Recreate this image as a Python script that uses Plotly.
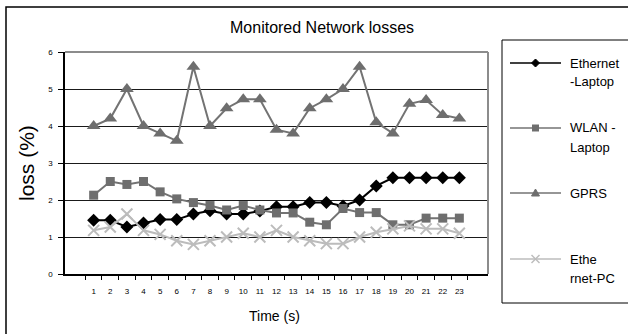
import plotly.graph_objects as go

time_labels = [str(i) for i in range(1, 24)]
ethernet_laptop = [1.45, 1.45, 1.27, 1.38, 1.47, 1.47, 1.62, 1.71, 1.62, 1.62, 1.70, 1.82, 1.82, 1.93,
                   1.93, 1.84, 2.0, 2.38, 2.6, 2.6, 2.6, 2.6, 2.6]
wlan_laptop = [2.13, 2.5, 2.42, 2.5, 2.22, 2.03, 1.93, 1.85, 1.73, 1.85, 1.73, 1.65, 1.65, 1.4,
               1.33, 1.77, 1.66, 1.66, 1.33, 1.33, 1.51, 1.51, 1.51]
gprs = [4.0, 4.2, 5.0, 4.0, 3.8, 3.6, 5.6, 4.0, 4.48, 4.72, 4.72, 3.9, 3.8, 4.48,
        4.72, 5.0, 5.6, 4.1, 3.8, 4.6, 4.7, 4.3, 4.2]
ethernet_pc = [1.18, 1.27, 1.62, 1.18, 1.07, 0.9, 0.8, 0.9, 1.0, 1.1, 1.0, 1.18, 1.0, 0.9,
               0.82, 0.82, 1.0, 1.13, 1.22, 1.3, 1.22, 1.22, 1.1]
series_names = [["Ethernet", "-Laptop"], ["WLAN -", "Laptop"], ["GPRS"], ["Ethe", "rnet-PC"]]

W, H = 628, 334
L, R, T, B = 65, 488, 52, 274


def px(x):
    return (x - L) / (R - L)


def py(y):
    return (B - y) / (B - T)


FONT = "Liberation Sans, Arial, sans-serif"
BLACK = "black"
DARK = "#6e6e6e"
LIGHT = "#bcbcbc"

styles = [
    dict(line=dict(color=BLACK, width=2), marker=dict(symbol="diamond", size=10, color=BLACK)),
    dict(line=dict(color="#737373", width=2), marker=dict(symbol="square", size=9, color=DARK)),
    dict(line=dict(color="#737373", width=2), marker=dict(symbol="triangle-up", size=12, color=DARK)),
    dict(line=dict(color=LIGHT, width=2), marker=dict(symbol="x-thin", size=11, color=LIGHT,
                                                       line=dict(color=LIGHT, width=2))),
]
all_series = [ethernet_laptop, wlan_laptop, gprs, ethernet_pc]

fig = go.Figure()
for vals, names, st in zip(all_series, series_names, styles):
    fig.add_trace(go.Scatter(x=time_labels, y=vals, name=" ".join(names), mode="lines+markers",
                             showlegend=False, **st))

shapes = [
    # outer chart border
    dict(type="rect", xref="paper", yref="paper", x0=px(6), x1=px(660), y0=py(345), y1=py(7),
         line=dict(color="black", width=1.5), fillcolor="rgba(0,0,0,0)", layer="below"),
    # legend box
    dict(type="rect", xref="paper", yref="paper", x0=px(502), x1=px(660), y0=py(303), y1=py(40),
         line=dict(color="black", width=1), fillcolor="rgba(0,0,0,0)", layer="below"),
    # plot-area gray top/right border
    dict(type="line", xref="paper", yref="paper", x0=0, x1=1, y0=1, y1=1,
         line=dict(color="#8c8c8c", width=2)),
    dict(type="line", xref="paper", yref="paper", x0=1, x1=1, y0=0, y1=1,
         line=dict(color="#8c8c8c", width=2)),
]

annotations = [
    dict(text="Monitored Network losses", xref="paper", yref="paper", x=px(322), y=py(27),
         showarrow=False, font=dict(family=FONT, size=16, color="black"),
         xanchor="center", yanchor="middle"),
    dict(text="loss (%)", xref="paper", yref="paper", x=px(26), y=py(163), textangle=-90,
         showarrow=False, font=dict(family=FONT, size=21, color="black"),
         xanchor="center", yanchor="middle"),
    dict(text="Time (s)", xref="paper", yref="paper", x=px(274), y=py(316),
         showarrow=False, font=dict(family=FONT, size=14, color="black"),
         xanchor="center", yanchor="middle"),
]

# hand-made legend (sample line + symbol + two-line label)
leg_y = [63, 128, 193, 259]
lx0, lx1, ltext = 510, 561, 568
for k, (names, st) in enumerate(zip(series_names, styles)):
    yy = leg_y[k]
    col = st["line"]["color"]
    shapes.append(dict(type="line", xref="paper", yref="paper", x0=px(lx0), x1=px(lx1),
                       y0=py(yy), y1=py(yy), line=dict(color=col, width=1.5)))
    cx = (lx0 + lx1) / 2
    mcol = st["marker"]["color"]
    sym = st["marker"]["symbol"]
    if sym == "diamond":
        s = 4
        path = (f"M {px(cx - s)},{py(yy)} L {px(cx)},{py(yy - s)} L {px(cx + s)},{py(yy)} "
                f"L {px(cx)},{py(yy + s)} Z")
        shapes.append(dict(type="path", xref="paper", yref="paper", path=path,
                           fillcolor=mcol, line=dict(color=mcol, width=1)))
    elif sym == "square":
        s = 3.5
        shapes.append(dict(type="rect", xref="paper", yref="paper", x0=px(cx - s), x1=px(cx + s),
                           y0=py(yy + s), y1=py(yy - s), fillcolor=mcol,
                           line=dict(color=mcol, width=0)))
    elif sym == "triangle-up":
        s = 4
        path = (f"M {px(cx - s)},{py(yy + 3)} L {px(cx)},{py(yy - 4)} "
                f"L {px(cx + s)},{py(yy + 3)} Z")
        shapes.append(dict(type="path", xref="paper", yref="paper", path=path,
                           fillcolor=mcol, line=dict(color=mcol, width=1)))
    else:
        s = 4
        for sign in (1, -1):
            shapes.append(dict(type="line", xref="paper", yref="paper",
                               x0=px(cx - s), x1=px(cx + s),
                               y0=py(yy - sign * s), y1=py(yy + sign * s),
                               line=dict(color=mcol, width=1.5)))
    for j, nm in enumerate(names):
        annotations.append(dict(text=nm, xref="paper", yref="paper", x=px(ltext), y=py(yy + 19 * j),
                                showarrow=False, xanchor="left", yanchor="middle",
                                font=dict(family=FONT, size=13, color="black")))

fig.update_layout(
    width=W, height=H,
    margin=dict(l=L, r=W - R, t=T, b=H - B),
    paper_bgcolor="white", plot_bgcolor="white",
    font=dict(family=FONT, color="black"),
    shapes=shapes, annotations=annotations,
    showlegend=False,
    xaxis=dict(type="category", categoryorder="array", categoryarray=time_labels,
               tickson="boundaries", ticks="outside", ticklen=4, tickcolor="black",
               tickangle=0, tickfont=dict(size=8, family=FONT, color="black"),
               showline=True, linecolor="black",
               linewidth=1.5, showgrid=False, ticklabelstandoff=9, fixedrange=True),
    yaxis=dict(range=[0, 6], dtick=1, ticks="outside", ticklen=5, tickcolor="black",
               tickfont=dict(size=8, family=FONT, color="black"), showline=True, linecolor="black",
               linewidth=1.5, showgrid=True, gridcolor="#1a1a1a", gridwidth=1,
               zeroline=False, ticklabelstandoff=4, fixedrange=True),
)

fig.write_html("out.html")
